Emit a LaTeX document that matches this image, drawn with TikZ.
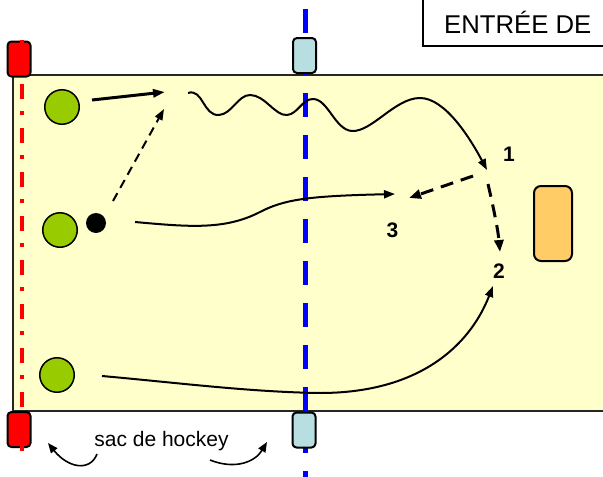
\documentclass[tikz,border=0pt]{standalone}
\usepackage{fontspec}
\setmainfont{Liberation Sans}
\usetikzlibrary{arrows.meta}
\definecolor{icefill}{HTML}{FFFFCC}
\definecolor{playergreen}{HTML}{99CC00}
\definecolor{benchblue}{HTML}{B7DEE0}
\definecolor{netorange}{HTML}{FFCC66}
\tikzset{
  rink/.style={draw=black!85, line width=1.5pt, fill=icefill},
  player/.style={circle, draw=black, line width=1.5pt, fill=playergreen, minimum size=34.5pt, inner sep=0pt},
  puck/.style={circle, fill=black, minimum size=20pt, inner sep=0pt},
  marker/.style={draw=black, line width=2pt, rounded corners=4pt, minimum width=23pt, minimum height=35pt, inner sep=0pt},
  goal/.style={draw=black, line width=2pt, fill=netorange, rounded corners=7pt, minimum width=38pt, minimum height=75pt, inner sep=0pt},
  skate/.style={line width=2pt, -{Triangle[length=11pt,width=8pt]}},
  pass/.style={line width=2pt, dash pattern=on 9pt off 6pt, -{Triangle[length=11pt,width=8pt]}},
  shot/.style={line width=3pt, dash pattern=on 13pt off 8pt, -{Triangle[length=12pt,width=9pt]}},
  bagarrow/.style={line width=1.6pt, -{Triangle[length=10pt,width=8pt]}},
  spot/.style={font=\bfseries\fontsize{21}{24}\selectfont, inner sep=0pt},
}
\begin{document}
\begin{tikzpicture}[x=1pt, y=-1pt]
\useasboundingbox (0,0) rectangle (603,477);

% ice surface
\path[rink] (13,75) rectangle (615,411);

% blue line and its bench markers
\draw[blue, line width=5pt, dash pattern=on 24pt off 18pt] (305,9) -- (305,480);
\node[marker, fill=benchblue] (bt) at (304.5,55.5) {};
\node[marker, fill=benchblue] (bb) at (304,430) {};

% goal line and its red markers
\node[marker, fill=red] (rt) at (19,59) {};
\node[marker, fill=red] (rb) at (19,429.5) {};
\draw[red, line width=3.5pt, dash pattern=on 15pt off 12pt on 4pt off 13pt] (22,40) -- (22,452);

% players, puck and net
\node[player] (p1) at (62,107) {};
\node[player] (p2) at (60,230) {};
\node[player] (p3) at (57,375) {};
\node[puck] (pk) at (96,223) {};
\node[goal] (net) at (553,223.5) {};

% spots
\node[spot] (s1) at (509,154) {1};
\node[spot] (s2) at (499,271) {2};
\node[spot] (s3) at (392.5,230.5) {3};

% path end points
\coordinate (a1s) at (92,100);
\coordinate (a1e) at (165,92);
\coordinate (ps) at (113,201);
\coordinate (pe) at (164,109);
\coordinate (ws) at (188,93);
\coordinate (we) at (487,170);
\coordinate (ms) at (135,222);
\coordinate (me) at (395,194);
\coordinate (ls) at (102,376);
\coordinate (le) at (493,286);
\coordinate (d3s) at (473,176);
\coordinate (d3e) at (409,198);
\coordinate (d2s) at (488,184);
\coordinate (d2e) at (500,252);

% skating and passing lanes
\draw[line width=3pt, -{Triangle[length=12pt,width=8pt]}] (a1s) -- (a1e);
\draw[pass] (ps) -- (pe);
\draw[skate] (ws) .. controls (203,88) and (203,116) .. (219,115)
  .. controls (232,114) and (238,95) .. (250,95)
  .. controls (265,95) and (275,116) .. (287,115)
  .. controls (298,114) and (302,99) .. (313,99)
  .. controls (328,99) and (335,130) .. (352,131)
  .. controls (372,132) and (395,98) .. (420,98)
  .. controls (445,98) and (470,138) .. (we);
\draw[skate] (ms) .. controls (190,227) and (225,230) .. (260,212)
  .. controls (285,199) and (310,196) .. (me);
\draw[skate] (ls) .. controls (180,383) and (250,392) .. (320,393)
  .. controls (420,393) and (470,345) .. (le);
\draw[shot] (d3s) -- (d3e);
\draw[shot] (d2s) .. controls (494,210) and (498,230) .. (d2e);

% hockey bags caption
\node[font=\fontsize{21}{24}\selectfont, anchor=base, inner sep=0pt] (bag) at (161.5,446.7) {sac de hockey};
\coordinate (b1s) at (97,454);
\coordinate (b1e) at (48,443);
\coordinate (b2s) at (210,460);
\coordinate (b2e) at (267,442);
\draw[bagarrow] (b1s) .. controls (90,472) and (68,468) .. (b1e);
\draw[bagarrow] (b2s) .. controls (235,470) and (255,462) .. (b2e);

% title box
\draw[line width=1.5pt, fill=white] (423,-5) rectangle (615,46);
\node[font=\fontsize{25.7}{30}\selectfont, anchor=base west, inner sep=0pt] (title) at (444,33) {ENTRÉE DE};
\end{tikzpicture}
\end{document}
